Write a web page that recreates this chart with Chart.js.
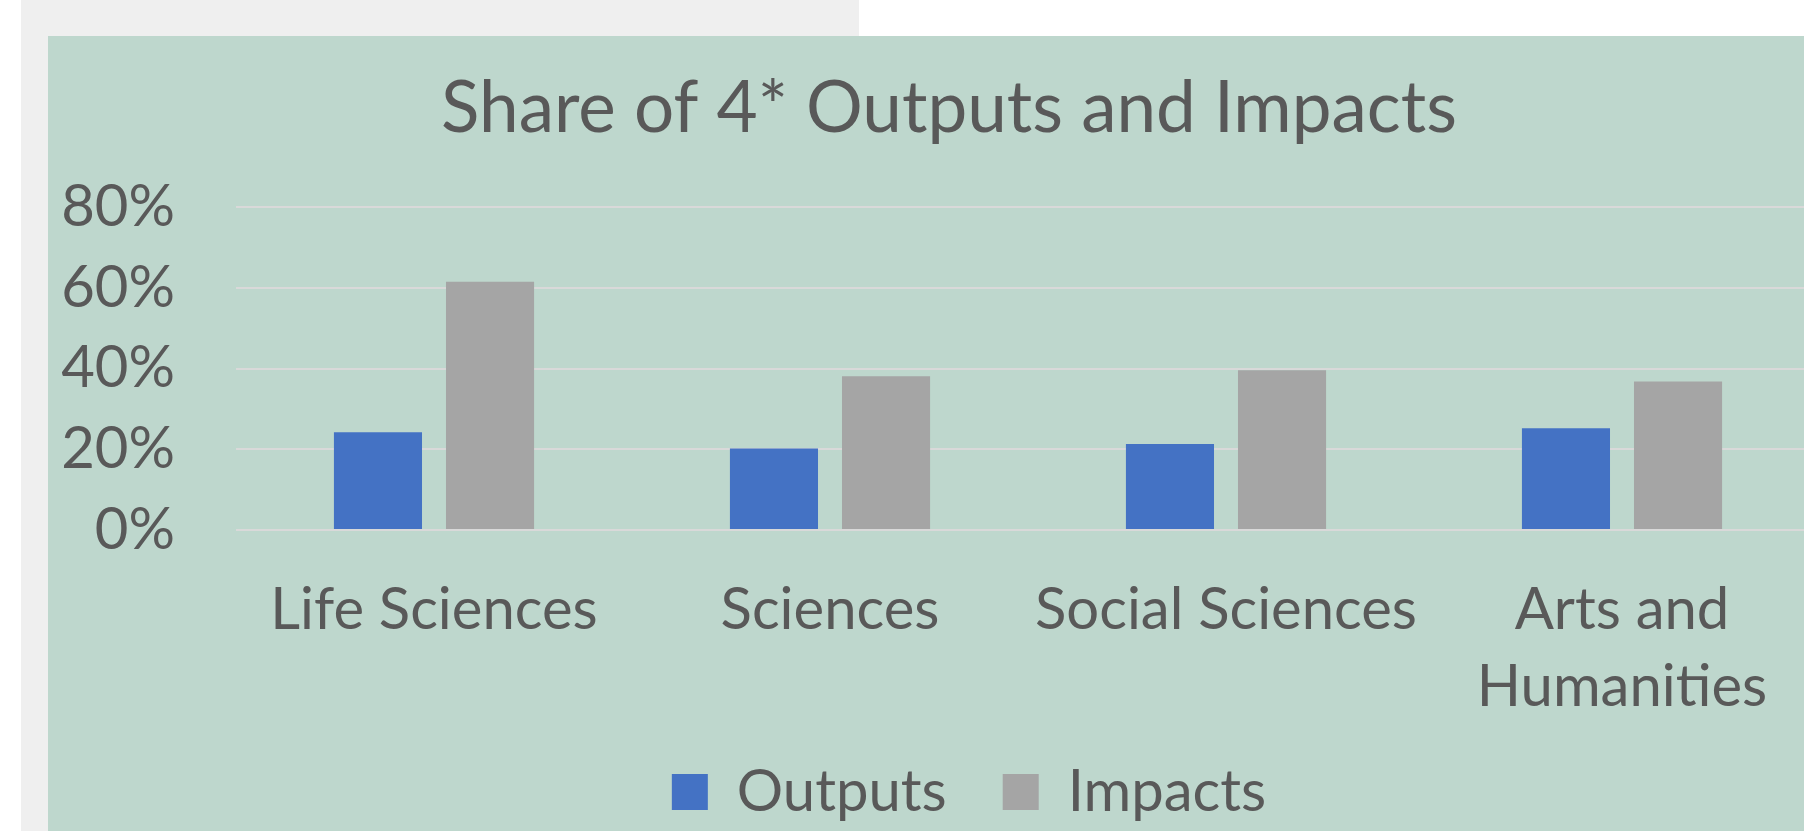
<!DOCTYPE html>
<html>
<head>
<meta charset="utf-8">
<script src="https://cdn.jsdelivr.net/npm/chart.js@4"></script>
<style>
  html, body { margin: 0; padding: 0; background: #ffffff; overflow: hidden; width: 1804px; height: 831px; }
  .sheet { position: absolute; left: 21px; top: 0; width: 838px; height: 831px; background: #efefef; }
  .box { position: absolute; left: 48px; top: 36px; width: 1802px; height: 795px; background: #bed7cd; }
</style>
</head>
<body>
<div class="sheet"></div>
<div class="box"><canvas id="myChart"></canvas></div>
<script>
var categories = ['Life Sciences', 'Sciences', 'Social Sciences', ['Arts and', 'Humanities']];
var outputs = [0.242, 0.202, 0.213, 0.252];
var impacts = [0.615, 0.381, 0.396, 0.368];
var yTicks = [0, 0.2, 0.4, 0.6, 0.8];

var font = 'Lato';
var textColor = '#595959';

// nudge title and legend a bit to the right, the y labels need the room on the left
var nudge = {
    id: 'nudge',
    afterLayout: function (chart) {
        chart.titleBlock.left += 10;
        chart.titleBlock.right += 10;
        chart.legend.left += 30;
        chart.legend.right += 30;
    }
};

var ctx = document.getElementById('myChart').getContext('2d');
var chart = new Chart(ctx, {
    type: 'bar',
    data: {
        labels: categories,
        datasets: [{
            label: 'Outputs',
            backgroundColor: '#4472c4',
            data: outputs
        },
        {
            label: 'Impacts',
            backgroundColor: '#a5a5a5',
            data: impacts
        }]
    },
    plugins: [nudge],
    options: {
        responsive: true,
        maintainAspectRatio: false,
        animation: false,
        // right side runs past the window, like the cropped original
        layout: { padding: { left: 10, right: 30, top: 0, bottom: 0 } },
        datasets: {
            bar: { categoryPercentage: 0.566, barPercentage: 0.786 }
        },
        plugins: {
            title: {
                display: true,
                text: 'Share of 4* Outputs and Impacts',
                color: textColor,
                font: { family: font, size: 71, weight: 'normal' },
                padding: { top: 31, bottom: 55 }
            },
            legend: {
                position: 'bottom',
                labels: {
                    color: textColor,
                    font: { family: font, size: 58 },
                    boxWidth: 36,
                    boxHeight: 36,
                    padding: 56
                }
            },
            tooltip: { enabled: false }
        },
        scales: {
            x: {
                afterFit: function (scale) { scale.height = 177; },
                grid: { display: false, drawTicks: false },
                border: { display: false },
                ticks: {
                    color: textColor,
                    font: { family: font, size: 58, lineHeight: 1.33 },
                    padding: 42,
                    maxRotation: 0,
                    autoSkip: false
                }
            },
            y: {
                min: 0,
                max: 0.8,
                afterBuildTicks: function (scale) {
                    scale.ticks = yTicks.map(function (v) { return { value: v }; });
                },
                afterFit: function (scale) { scale.width = 178; },
                grid: { color: '#d9d9d9', lineWidth: 2, drawTicks: false },
                border: { display: false },
                ticks: {
                    color: textColor,
                    font: { family: font, size: 58 },
                    padding: 61,
                    autoSkip: false,
                    callback: function (v) { return Math.round(v * 100) + '%'; }
                }
            }
        }
    }
});
</script>
</body>
</html>
